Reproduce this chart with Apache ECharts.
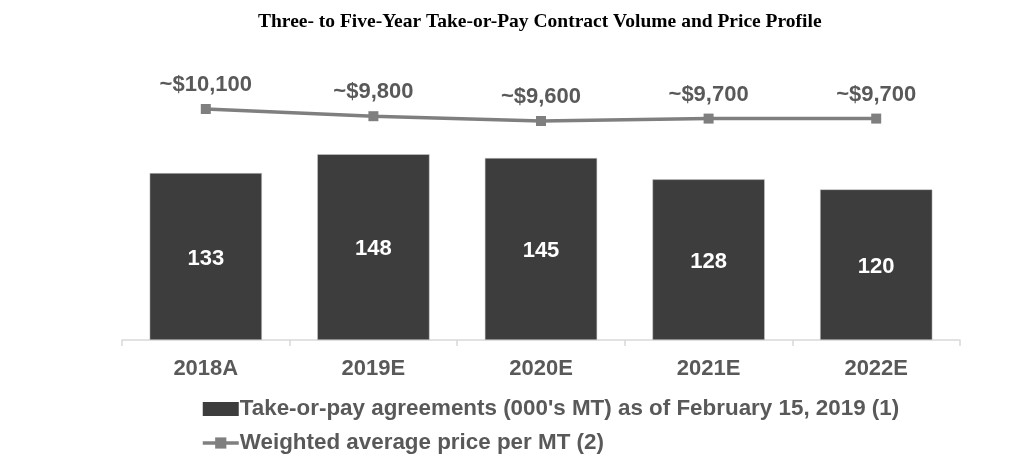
<!DOCTYPE html>
<html>
<head>
<meta charset="utf-8">
<script src="https://cdn.jsdelivr.net/npm/echarts@6/dist/echarts.min.js"></script>
<style>
  html, body { margin: 0; padding: 0; background: #fff; }
  #chart { width: 1023px; height: 467px; }
</style>
</head>
<body>
<div id="chart"></div>
<script>
// 数据
var years = ['2018A', '2019E', '2020E', '2021E', '2022E'];
var volumes = [133, 148, 145, 128, 120];
var prices = [10100, 9800, 9600, 9700, 9700];
var priceLabels = ['~$10,100', '~$9,800', '~$9,600', '~$9,700', '~$9,700'];

var gray = '#595959';
var chart = echarts.init(document.getElementById('chart'));

chart.setOption({
  animation: false,
  title: {
    text: 'Three- to Five-Year Take-or-Pay Contract Volume and Price Profile',
    left: 253,
    top: 7,
    textStyle: { fontFamily: 'Liberation Serif', fontWeight: 'bold', fontSize: 19.5, color: '#000' }
  },
  legend: {
    orient: 'vertical',
    left: 196,
    top: 393,
    itemWidth: 36,
    itemHeight: 14,
    itemGap: 12,
    textStyle: { fontFamily: 'Liberation Sans', fontWeight: 'bold', fontSize: 22.4, color: gray, padding: [0, 0, 0, -4] },
    data: [
      { name: "Take-or-pay agreements (000's MT) as of February 15, 2019 (1)", icon: 'rect', itemStyle: { borderWidth: 0 } },
      { name: 'Weighted average price per MT (2)', lineStyle: { width: 3.5 } }
    ]
  },
  grid: { left: 122, right: 63, top: 89, bottom: 127 },
  xAxis: {
    type: 'category',
    data: years,
    axisLine: { lineStyle: { color: '#d9d9d9', width: 1.5 } },
    axisTick: { show: true, length: 6, lineStyle: { color: '#d9d9d9', width: 1.5 } },
    axisLabel: { fontFamily: 'Liberation Sans', fontWeight: 'bold', fontSize: 22, color: gray, margin: 18 }
  },
  yAxis: [
    { type: 'value', min: 0, max: 200, show: false, splitLine: { show: false } },
    { type: 'value', min: 475, max: 10933, show: false, splitLine: { show: false } }
  ],
  series: [
    {
      name: "Take-or-pay agreements (000's MT) as of February 15, 2019 (1)",
      type: 'bar',
      data: volumes,
      barWidth: '67%',
      itemStyle: { color: '#3d3d3d', borderColor: '#cfcfcf', borderWidth: 0.5 },
      label: {
        show: true,
        position: 'inside',
        offset: [0, 2],
        fontFamily: 'Liberation Sans',
        fontWeight: 'bold',
        fontSize: 22,
        color: '#fff'
      }
    },
    {
      name: 'Weighted average price per MT (2)',
      type: 'line',
      yAxisIndex: 1,
      data: prices,
      symbol: 'rect',
      symbolSize: 10,
      lineStyle: { color: '#7f7f7f', width: 3.5 },
      itemStyle: { color: '#7f7f7f' },
      label: {
        show: true,
        position: 'top',
        distance: 8,
        fontFamily: 'Liberation Sans',
        fontWeight: 'bold',
        fontSize: 22,
        color: gray,
        formatter: function (p) { return priceLabels[p.dataIndex]; }
      }
    }
  ]
});
</script>
</body>
</html>
